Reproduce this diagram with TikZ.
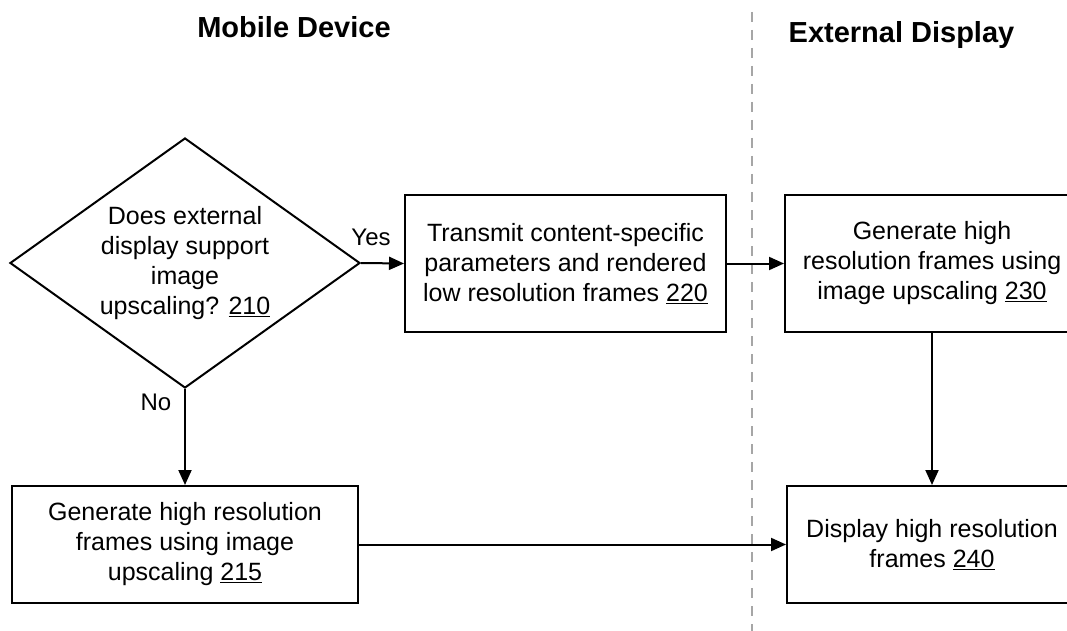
\documentclass[tikz,border=0pt]{standalone}
\usepackage{fontspec}
\setmainfont{Liberation Sans}
\usetikzlibrary{arrows.meta,shapes.geometric}
\tikzset{
  every picture/.style={x=1pt,y=-1pt},
  box/.style={draw, line width=2pt, align=center, font=\fontsize{25}{30}\selectfont, inner sep=0pt},
  dec/.style={draw, diamond, line width=2pt, align=center, font=\fontsize{25}{30}\selectfont, inner sep=0pt, shape aspect=1.4, minimum width=350pt, minimum height=250pt},
  conn/.style={line width=2pt, -{Triangle[length=15pt,width=13pt]}},
  title/.style={font=\fontsize{29}{32}\selectfont\bfseries, anchor=base},
  lbl/.style={font=\fontsize{24}{28}\selectfont},
  sep/.style={draw=gray!70, line width=2pt, dash pattern=on 10pt off 8pt}
}
\begin{document}
\begin{tikzpicture}
\clip (0,0) rectangle (1067,631);
\fill[white] (0,0) rectangle (1067,631);
\node[title] (t1) at (294,38) {Mobile Device};
\node[title] (t2) at (901.5,43) {External Display};
\coordinate (s1) at (752,12);
\coordinate (s2) at (752,631);
\draw[sep] (s1) -- (s2);
\node[dec] (d) at (185,263) {Does external\\display support\\image\\upscaling? \underline{210}};
\node[box, minimum width=321pt, minimum height=137pt] (b220) at (565.5,263.5) {Transmit content-specific\\parameters and rendered\\low resolution frames \underline{220}};
\node[box, minimum width=294pt, minimum height=137pt] (b230) at (932,263.5) {Generate high\\resolution frames using\\image upscaling \underline{230}};
\node[box, minimum width=346pt, minimum height=117pt] (b215) at (185,544.5) {Generate high resolution\\frames using image\\upscaling \underline{215}};
\node[box, minimum width=290pt, minimum height=117pt] (b240) at (932,544.5) {Display high resolution\\frames \underline{240}};
\draw[conn] (d.east) -- (b220.west);
\draw[conn] (b220.east) -- (b230.west);
\draw[conn] (d.south) -- (b215.north);
\draw[conn] (b230.south) -- (b240.north);
\draw[conn] (b215.east) -- (b215.east -| b240.west);
\node[lbl] (yes) at (371,237) {Yes};
\node[lbl] (no) at (156,402) {No};
\end{tikzpicture}
\end{document}
